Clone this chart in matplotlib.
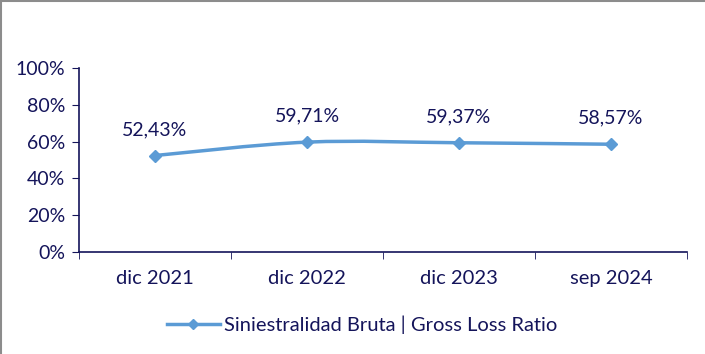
import matplotlib
matplotlib.use("Agg")
import matplotlib.pyplot as plt
from matplotlib.path import Path
from matplotlib.patches import PathPatch
from matplotlib.lines import Line2D
import numpy as np

categories = ["dic 2021", "dic 2022", "dic 2023", "sep 2024"]
values = [52.43, 59.71, 59.37, 58.57]
labels = ["52,43%", "59,71%", "59,37%", "58,57%"]
yticks = [0, 20, 40, 60, 80, 100]
series_name = "Siniestralidad Bruta | Gross Loss Ratio"

LINE = "#5B9BD5"
TXT = "#14145A"
plt.rcParams["font.family"] = ["Lato", "DejaVu Sans"]

fig = plt.figure(figsize=(7.05, 3.54), dpi=100)
ax = fig.add_axes([79/705, 1-252/354, 608/705, 184/354])

x = np.arange(len(values))
y = np.array(values, dtype=float)

# Excel-style smoothed line (Catmull-Rom -> cubic Bezier)
verts = [(x[0], y[0])]
codes = [Path.MOVETO]
n = len(x)
for i in range(n - 1):
    p0 = (x[i-1], y[i-1]) if i > 0 else (x[i], y[i])
    p1 = (x[i], y[i])
    p2 = (x[i+1], y[i+1])
    p3 = (x[i+2], y[i+2]) if i + 2 < n else (x[i+1], y[i+1])
    c1 = (p1[0] + (p2[0]-p0[0])/6, p1[1] + (p2[1]-p0[1])/6)
    c2 = (p2[0] - (p3[0]-p1[0])/6, p2[1] - (p3[1]-p1[1])/6)
    verts += [c1, c2, p2]
    codes += [Path.CURVE4]*3
ax.add_patch(PathPatch(Path(verts, codes), fill=False, edgecolor=LINE, lw=2.5, zorder=2))
ax.plot(x, y, linestyle="none", marker="D", markersize=6, color=LINE, zorder=3)

for xi, yi, lab in zip(x, y, labels):
    ax.annotate(lab, (xi, yi), xytext=(0, 26), textcoords="offset pixels",
                ha="center", va="center", fontsize=14, color=TXT)

ax.set_xlim(-0.5, len(values) - 0.5)
ax.set_ylim(0, 100)
ax.set_yticks(yticks)
ax.set_yticklabels([f"{t}%" for t in yticks])
ax.set_xticks(x)
ax.set_xticklabels(categories)
ax.set_xticks(np.arange(-0.5, len(values)), minor=True)
ax.tick_params(axis="x", which="major", length=0, pad=13, labelsize=14.5, labelcolor=TXT)
ax.tick_params(axis="x", which="minor", length=5, color=TXT, direction="out")
ax.tick_params(axis="y", length=5, color=TXT, direction="out", labelsize=14, labelcolor=TXT, pad=5)

for s in ["top", "right"]:
    ax.spines[s].set_visible(False)
for s in ["left", "bottom"]:
    ax.spines[s].set_color(TXT)
    ax.spines[s].set_linewidth(1.2)

handle = Line2D([], [], color=LINE, lw=2.5, marker="D", markersize=5)
fig.legend([handle], [series_name], loc="center", bbox_to_anchor=(362/705, 1-325/354),
           frameon=False, fontsize=14.5, labelcolor=TXT, handlelength=2.6, handletextpad=0.2)

# outer frame (top and left visible)
fig.add_artist(Line2D([0, 1], [1-0.5/354, 1-0.5/354], transform=fig.transFigure, color="#8C8C8C", lw=1.5))
fig.add_artist(Line2D([0.5/705, 0.5/705], [0, 1], transform=fig.transFigure, color="#8C8C8C", lw=1.5))

fig.savefig("out.png", dpi=100)
